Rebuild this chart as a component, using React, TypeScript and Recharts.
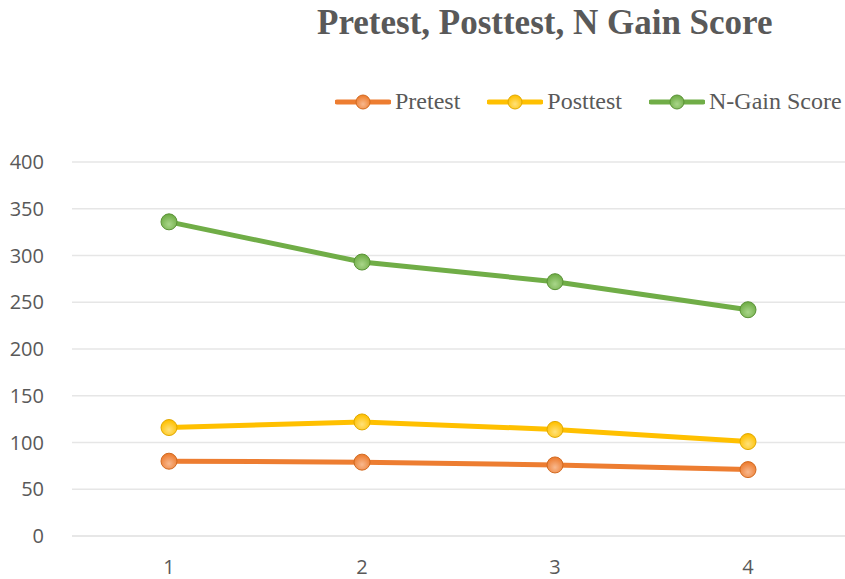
import React from 'react';
import { LineChart, Line, XAxis, YAxis, CartesianGrid } from 'recharts';

const categories = ['1', '2', '3', '4'];
const pretest = [80, 79, 76, 71];
const posttest = [116, 122, 114, 101];
const nGain = [336, 293, 272, 242];
const yTicks = [0, 50, 100, 150, 200, 250, 300, 350, 400];

const seriesDefs = [
  { key: 'pretest', name: 'Pretest', color: '#ED7D31', light: '#F8B88E', dark: '#D2691F' },
  { key: 'posttest', name: 'Posttest', color: '#FFC000', light: '#FFE17A', dark: '#E0A800' },
  { key: 'nGain', name: 'N-Gain Score', color: '#70AD47', light: '#A9D68A', dark: '#5A9236' },
];

const data = categories.map((c, i) => ({
  cat: c,
  pretest: pretest[i],
  posttest: posttest[i],
  nGain: nGain[i],
}));

const makeDot = (id: string, dark: string) => (props: any) => {
  const { cx, cy, index } = props;
  if (cx == null || cy == null) return null;
  return (
    <circle key={`${id}-${index}`} cx={cx} cy={cy} r={8} fill={`url(#grad-${id})`} stroke={dark} strokeWidth={1} />
  );
};

const LegendContent = () => (
  <div style={{ display: 'flex', alignItems: 'center', fontFamily: '"Liberation Serif", "Times New Roman", serif', fontSize: 24, color: '#595959' }}>
    {seriesDefs.map((s, i) => (
      <div key={s.key} style={{ display: 'flex', alignItems: 'center', marginRight: i < 2 ? 27 : 0 }}>
        <svg width={56} height={20} style={{ marginRight: 4 }}>
          <defs>
            <radialGradient id={`lg-${s.key}`} cx="50%" cy="65%" r="60%">
              <stop offset="0%" stopColor={s.light} />
              <stop offset="100%" stopColor={s.color} />
            </radialGradient>
          </defs>
          <line x1={2} y1={10} x2={54} y2={10} stroke={s.color} strokeWidth={5} strokeLinecap="round" />
          <circle cx={28} cy={10} r={7} fill={`url(#lg-${s.key})`} stroke={s.dark} strokeWidth={1} />
        </svg>
        <span>{s.name}</span>
      </div>
    ))}
  </div>
);

export default function App() {
  return (
    <div style={{ position: 'absolute', left: 0, top: 0, width: 845, height: 579, background: '#fff' }}>
      <div
        style={{
          position: 'absolute',
          left: 317,
          top: 3,
          fontFamily: '"Liberation Serif", "Times New Roman", serif',
          fontWeight: 'bold',
          fontSize: 35,
          color: '#595959',
          whiteSpace: 'nowrap',
        }}
      >
        Pretest, Posttest, N Gain Score
      </div>
      <div style={{ position: 'absolute', left: 335, top: 88 }}>
        <LegendContent />
      </div>
      <LineChart width={845} height={579} data={data} margin={{ top: 162, right: 0, bottom: 0, left: 0 }}>
        <defs>
          {seriesDefs.map((s) => (
            <radialGradient key={s.key} id={`grad-${s.key}`} cx="50%" cy="65%" r="60%">
              <stop offset="0%" stopColor={s.light} />
              <stop offset="100%" stopColor={s.color} />
            </radialGradient>
          ))}
        </defs>
        <CartesianGrid vertical={false} stroke="#E6E6E6" strokeWidth={1.5} />
        <XAxis
          dataKey="cat"
          height={43}
          padding={{ left: 97, right: 97 }}
          axisLine={{ stroke: '#E6E6E6', strokeWidth: 1.5 }}
          tickLine={false}
          tick={{ fill: '#595959', fontSize: 20, fontFamily: '"Open Sans", sans-serif' }}
          tickMargin={18}
        />
        <YAxis
          width={72}
          domain={[0, 400]}
          ticks={yTicks}
          axisLine={false}
          tickLine={false}
          tick={{ fill: '#595959', fontSize: 20, fontFamily: '"Open Sans", sans-serif' }}
          tickMargin={22}
          interval={0}
        />
        {seriesDefs.map((s) => (
          <Line
            key={s.key}
            type="linear"
            dataKey={s.key}
            name={s.name}
            stroke={s.color}
            strokeWidth={5}
            dot={makeDot(s.key, s.dark)}
            activeDot={false}
            isAnimationActive={false}
          />
        ))}
      </LineChart>
    </div>
  );
}
